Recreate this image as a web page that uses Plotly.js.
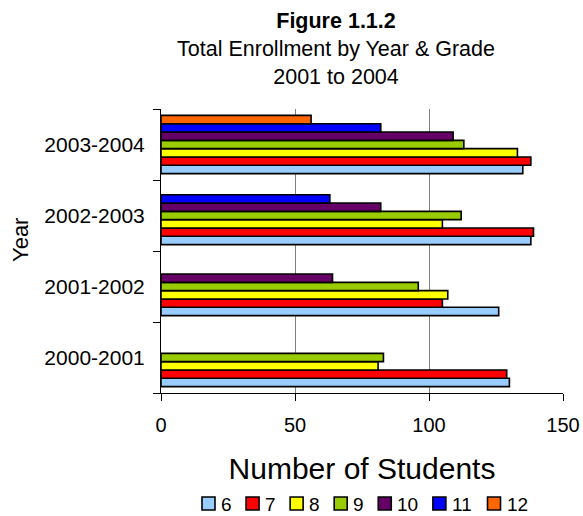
<!DOCTYPE html>
<html>
<head>
<meta charset="utf-8">
<script src="https://cdn.plot.ly/plotly-3.0.1.min.js"></script>
<style>
  html, body { margin: 0; padding: 0; background: #fff; }
  #chart { width: 583px; height: 516px; }
</style>
</head>
<body>
<div id="chart"></div>
<script>
// School years on the category axis (bottom to top)
const years = ["2000-2001", "2001-2002", "2002-2003", "2003-2004"];

// Grade labels and their bar colours
const grades = ["6", "7", "8", "9", "10", "11", "12"];
const gradeColors = ["#99CCFF", "#FF0000", "#FFFF00", "#99CC00", "#660066", "#0000FF", "#FF6600"];

// Enrollment per grade, one value per school year (null = grade not offered yet)
const grade6  = [130, 126, 138, 135];
const grade7  = [129, 105, 139, 138];
const grade8  = [81, 107, 105, 133];
const grade9  = [83, 96, 112, 113];
const grade10 = [null, 64, 82, 109];
const grade11 = [null, null, 63, 82];
const grade12 = [null, null, null, 56];

const xTickVals = [0, 50, 100, 150];

const seriesValues = [grade6, grade7, grade8, grade9, grade10, grade11, grade12];

const FONT = "Liberation Sans, Arial, Helvetica, sans-serif";
const W = 583, H = 516;
const M = { l: 161, r: 20, t: 109, b: 123 };
const plotW = W - M.l - M.r;
const plotH = H - M.t - M.b;

// pixel -> paper helpers for the hand-laid legend row
const px = (x) => (x - M.l) / plotW;
const py = (y) => (H - M.b - y) / plotH;

const traces = grades.map((g, i) => ({
  type: "bar",
  orientation: "h",
  name: g,
  y: years,
  x: seriesValues[i],
  marker: { color: gradeColors[i], line: { color: "#000", width: 1.6 } },
  showlegend: false,
  hovertemplate: "Grade " + g + ": %{x}<extra>%{y}</extra>"
}));

// Legend row: coloured box followed by its grade label
const shapes = [];
const annotations = [];
const legFont = 19;
const digitW = 0.556 * legFont;
let cx = 202;
const boxTop = 497, boxSize = 13;
grades.forEach((g, i) => {
  shapes.push({
    type: "rect", xref: "paper", yref: "paper",
    x0: px(cx), x1: px(cx + boxSize),
    y0: py(boxTop + boxSize), y1: py(boxTop),
    fillcolor: gradeColors[i],
    line: { color: "#000", width: 1.6 }
  });
  annotations.push({
    xref: "paper", yref: "paper",
    x: px(cx + boxSize + 4), y: py(boxTop + boxSize / 2 + 0.5),
    xanchor: "left", yanchor: "middle",
    text: g, showarrow: false, height: 18, valign: "middle",
    font: { family: FONT, size: legFont, color: "#000" }
  });
  cx += boxSize + 5 + g.length * digitW + 15.5;
});

// Rotated category-axis caption
annotations.push({
  xref: "paper", yref: "paper",
  x: px(20), y: py(240),
  xanchor: "center", yanchor: "middle",
  text: "Year", textangle: -90, showarrow: false,
  font: { family: FONT, size: 22, color: "#000" }
});

const layout = {
  width: W, height: H,
  margin: M,
  paper_bgcolor: "#fff",
  plot_bgcolor: "#fff",
  font: { family: FONT, color: "#000" },
  title: {
    text: "<b>Figure 1.1.2</b><br>Total Enrollment by Year & Grade<br>2001 to 2004",
    font: { family: FONT, size: 21.5, color: "#000" },
    xref: "container", x: 336 / W, xanchor: "center",
    yref: "container", y: 1 - 28 / H, yanchor: "top"
  },
  barmode: "group",
  bargap: 0.18,
  bargroupgap: 0,
  showlegend: false,
  xaxis: {
    range: [0, 150],
    tickvals: xTickVals,
    showgrid: true, gridcolor: "#808080", gridwidth: 1,
    zeroline: false,
    showline: true, linecolor: "#000", linewidth: 1,
    ticks: "outside", ticklen: 7, tickcolor: "#000", tickwidth: 1,
    ticklabelstandoff: 7,
    tickfont: { family: FONT, size: 20, color: "#000" },
    title: { text: "Number of Students", font: { family: FONT, size: 30, color: "#000" }, standoff: 22 },
    fixedrange: true
  },
  xaxis2: {
    overlaying: "x", matches: "x", side: "bottom",
    range: [0, 150], tickvals: xTickVals,
    showgrid: false, zeroline: false, showline: false,
    ticks: "inside", ticklen: 5, tickcolor: "#000", tickwidth: 1,
    showticklabels: false, fixedrange: true
  },
  yaxis: {
    type: "category",
    categoryorder: "array", categoryarray: years,
    tickson: "boundaries",
    showgrid: false, zeroline: false,
    showline: true, linecolor: "#000", linewidth: 1,
    ticks: "outside", ticklen: 7, tickcolor: "#000", tickwidth: 1,
    ticklabelstandoff: 11,
    tickfont: { family: FONT, size: 21, color: "#000" },
    fixedrange: true
  },
  shapes: shapes,
  annotations: annotations
};

Plotly.newPlot("chart", traces, layout, { displayModeBar: false, staticPlot: true });
</script>
</body>
</html>
